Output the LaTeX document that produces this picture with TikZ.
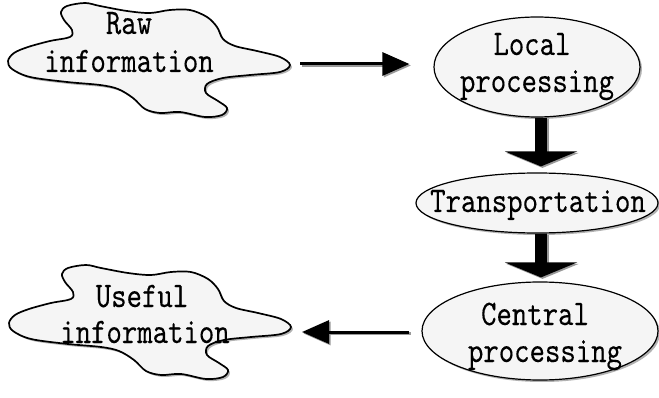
\documentclass[tikz,border=0pt]{standalone}
\usepackage{fontspec}
\newfontfamily\diagfont[FakeStretch=0.815,FakeBold=0.15]{lmmono10-regular.otf}
\usetikzlibrary{shapes.geometric,arrows.meta,shadows}
\begin{document}
\begin{tikzpicture}[x=1pt,y=-1pt,
  lbl/.style={font=\diagfont\fontsize{36}{40}\selectfont, anchor=base, inner sep=0pt},
  shad/.style={drop shadow={shadow xshift=2pt, shadow yshift=-2pt, fill=black!55, opacity=0.55}},
  ell/.style={ellipse, draw, line width=1.2pt, fill=black!4, shad, inner sep=0pt},
  blob/.style={draw, line width=1.7pt, fill=black!4, shad},
  thinarrow/.style={line width=3pt, -{Triangle[length=27pt,width=23pt]}},
  fatarrow/.style={line width=12pt, -{Triangle[length=15pt,width=72pt]}},
  shadowcopy/.style={black!40, transform canvas={xshift=1.5pt,yshift=-1.5pt}}
]
\useasboundingbox (0,0) rectangle (659,398);

\def\blobpts{(67,6) (85,3) (100,6) (127,11) (150,13) (170,10) (190,10) (207,17) (217,27) (223,39) (235,46) (257,51) (280,57) (290,65) (280,72) (250,75) (223,78) (207,84) (206,93) (218,101) (227,108) (222,115) (205,117) (180,112) (160,113) (145,109) (133,98) (118,89) (100,85) (67,82) (30,77) (12,69) (8,61) (14,53) (28,47) (50,41) (70,37) (72,30) (64,20) (61,12)}

% Raw information blob
\path[blob] plot[smooth cycle, tension=0.55] coordinates {\blobpts};
\node[lbl] (raw1) at (129,34) {Raw};
\node[lbl] (raw2) at (129,72) {information};
\coordinate (rawtip) at (290,64);

% Useful information blob
\begin{scope}[shift={(1,262)}]
\path[blob] plot[smooth cycle, tension=0.55] coordinates {\blobpts};
\end{scope}
\node[lbl] (use1) at (142,307) {Useful};
\node[lbl] (use2) at (145,343) {information};
\coordinate (usetip) at (291,332);

% Ellipses
\node[ell, minimum width=206pt, minimum height=100pt] (local) at (537,67) {};
\node[lbl] (loc1) at (532,55) {Local};
\node[lbl] (loc2) at (537,92) {processing};

\node[ell, minimum width=242pt, minimum height=60pt] (trans) at (537,203) {};
\node[lbl] (tr1) at (538,212) {Transportation};

\node[ell, minimum width=236pt, minimum height=98pt] (central) at (540,331) {};
\node[lbl] (cen1) at (535,325) {Central};
\node[lbl] (cen2) at (545,362) {processing};

% Arrows (shadow copies first)
\draw[thinarrow, shadowcopy, shorten <=10pt, shorten >=24pt] (rawtip) -- (rawtip -| local.west);
\draw[thinarrow, shorten <=10pt, shorten >=24pt] (rawtip) -- (rawtip -| local.west);

\draw[thinarrow, shadowcopy, shorten <=12pt, shorten >=11pt] (central.west |- usetip) -- (usetip);
\draw[thinarrow, shorten <=12pt, shorten >=11pt] (central.west |- usetip) -- (usetip);

\draw[fatarrow, shadowcopy, shorten >=6pt] ([xshift=4pt]local.south) -- ([xshift=4pt]local.south |- trans.north);
\draw[fatarrow, shorten >=6pt] ([xshift=4pt]local.south) -- ([xshift=4pt]local.south |- trans.north);

\draw[fatarrow, shadowcopy, shorten >=4pt] ([xshift=4pt]trans.south) -- ([xshift=4pt]trans.south |- central.north);
\draw[fatarrow, shorten >=4pt] ([xshift=4pt]trans.south) -- ([xshift=4pt]trans.south |- central.north);
\end{tikzpicture}
\end{document}
